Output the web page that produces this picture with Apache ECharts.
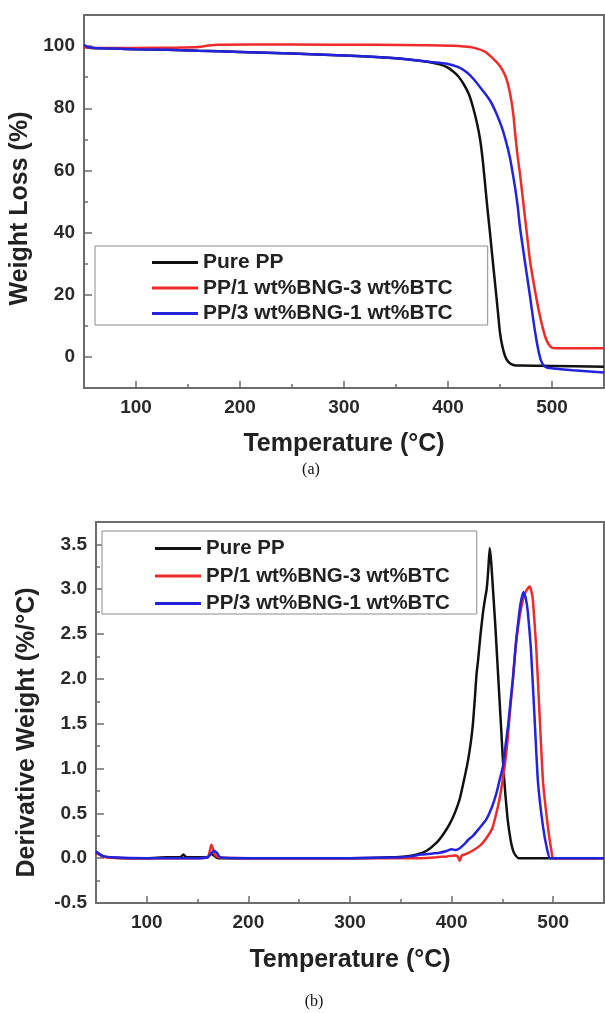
<!DOCTYPE html>
<html>
<head>
<meta charset="utf-8">
<script src="https://cdn.jsdelivr.net/npm/echarts@6/dist/echarts.min.js"></script>
<style>
  html, body { margin: 0; padding: 0; background: #ffffff; }
  #chart { width: 605px; height: 1013px; }
</style>
</head>
<body>
<div id="chart"></div>
<script>
// ---- Series names and colours ----
const seriesNames = ['Pure PP', 'PP/1 wt%BNG-3 wt%BTC', 'PP/3 wt%BNG-1 wt%BTC'];
const seriesColors = ['#111111', '#ee2a2a', '#2323dd'];

// ---- Axis ticks ----
const tempMajorTicks = [100, 200, 300, 400, 500];
const tempMinorTicks = [150, 250, 350, 450];
const weightMajorTicks = [0, 20, 40, 60, 80, 100];
const weightMinorTicks = [10, 30, 50, 70, 90];
const derivMajorTicks = [-0.5, 0, 0.5, 1, 1.5, 2, 2.5, 3, 3.5];
const derivMinorTicks = [-0.25, 0.25, 0.75, 1.25, 1.75, 2.25, 2.75, 3.25];

// ---- (a) TGA: [temperature °C, weight %] ----
const tgaPurePP = [
  [50, 99.8], [55, 99.5], [60, 99.4], [80, 99.2], [100, 99.0], [130, 98.8], [160, 98.5],
  [200, 98.1], [250, 97.6], [300, 97.0], [335, 96.4], [360, 95.8], [383, 94.8], [392, 94.1],
  [399, 93.2], [405, 91.8], [410, 90.2], [415, 87.8], [420, 84.6], [424, 80.4], [428, 75],
  [431, 69.7], [433.5, 63], [435.6, 55.8], [438, 47.5], [440.4, 39.8], [443, 31], [445.2, 23.8],
  [448, 14.5], [450, 7.8], [452, 3.8], [454.8, 0.3], [458, -1.6], [462.8, -2.6], [470, -2.8],
  [500, -2.9], [550, -3.2]
];
const tgaBng1Btc3 = [
  [50, 99.7], [60, 99.4], [100, 99.4], [140, 99.5], [160, 99.7], [170, 100.2], [180, 100.4],
  [250, 100.5], [330, 100.4], [380, 100.3], [405, 100.1], [415, 99.9], [424.3, 99.5], [435, 98.3],
  [443.6, 95.9], [449, 94], [453.2, 91.8], [456, 89.6], [458.5, 86.6], [461, 82.3], [463, 77.5],
  [464.4, 72.5], [466.8, 65], [469.2, 58.9], [471.6, 52], [474, 45], [476.4, 38], [478.8, 31.1],
  [482, 24.5], [485.3, 18.3], [488.5, 13], [491.6, 8.7], [494, 6], [496.5, 4.2], [499.7, 3.0],
  [505, 2.8], [550, 2.8]
];
const tgaBng3Btc1 = [
  [50, 100.4], [53, 99.8], [60, 99.4], [80, 99.2], [100, 99.0], [130, 98.8], [160, 98.5],
  [200, 98.1], [250, 97.6], [300, 97.0], [335, 96.4], [360, 95.8], [383, 94.9], [399, 94.3],
  [410, 93.2], [418, 91.6], [424.3, 89.5], [432, 86.3], [440.4, 82.5], [446, 78.7], [451.6, 74],
  [456, 69], [459.6, 64], [462, 59.5], [464.4, 54.7], [467, 48.5], [469.2, 41.8], [472.5, 34],
  [475.6, 26.9], [479, 19.2], [482, 11.9], [484.5, 6.5], [486.8, 2.3], [489, -0.8], [491.6, -2.6],
  [495, -3.4], [501.3, -3.7], [520, -4.3], [550, -5.0]
];

// ---- (b) DTG: [temperature °C, derivative weight %/°C] ----
const dtgPurePP = [
  [50, 0.07], [53, 0.05], [57, 0.02], [62, 0.01], [80, 0.0], [100, 0.0], [120, 0.01], [133, 0.01],
  [136, 0.04], [139, 0.01], [160, 0.01], [163, 0.05], [166, 0.03], [170, 0.0], [200, 0.0],
  [250, 0.0], [300, 0.0], [340, 0.01], [355, 0.02], [365, 0.04], [375, 0.08], [385, 0.17],
  [392, 0.27], [398, 0.38], [403, 0.5], [408, 0.66], [412, 0.86], [416, 1.08], [419, 1.3],
  [421, 1.5], [423, 1.8], [424.5, 2.05], [426, 2.2], [428.5, 2.5], [431, 2.75], [433, 2.9],
  [434.5, 3.0], [436, 3.2], [437.5, 3.46], [439, 3.3], [441, 2.95], [443, 2.6], [445, 2.2],
  [447, 1.8], [449, 1.4], [451, 1.0], [453, 0.7], [455, 0.45], [457, 0.28], [459, 0.15],
  [461, 0.07], [463, 0.03], [466, 0.0], [550, 0.0]
];
const dtgBng1Btc3 = [
  [50, 0.06], [55, 0.03], [60, 0.01], [80, 0.0], [150, 0.0], [160, 0.01], [162, 0.08],
  [163.5, 0.15], [165, 0.11], [167, 0.04], [170, 0.01], [200, 0.0], [300, 0.0], [370, 0.0],
  [385, 0.01], [395, 0.02], [403, 0.03], [406, 0.02], [408, -0.03], [410, 0.03], [415, 0.05],
  [420, 0.08], [428, 0.14], [434, 0.22], [440, 0.33], [444, 0.5], [447, 0.65], [450, 0.85],
  [452.5, 1.05], [455, 1.3], [457, 1.58], [460, 1.95], [463, 2.35], [466, 2.62], [469, 2.82],
  [472, 2.95], [474.5, 3.0], [476.7, 3.03], [478.5, 2.98], [480, 2.88], [483.3, 2.35],
  [486.6, 1.6], [490, 0.85], [494.8, 0.35], [498, 0.1], [500, 0.0], [550, 0.0]
];
const dtgBng3Btc1 = [
  [50, 0.07], [54, 0.04], [58, 0.02], [65, 0.01], [100, 0.0], [150, 0.0], [160, 0.01],
  [163, 0.05], [166, 0.08], [169, 0.06], [172, 0.01], [200, 0.0], [300, 0.0], [350, 0.01],
  [360, 0.02], [370, 0.04], [380, 0.05], [388, 0.06], [395, 0.08], [400, 0.1], [404, 0.09],
  [408, 0.11], [412, 0.15], [416, 0.2], [421, 0.25], [427, 0.33], [434, 0.43], [440, 0.58],
  [444, 0.72], [447, 0.86], [450.5, 1.02], [453, 1.25], [455.5, 1.47], [458, 1.75],
  [460.5, 2.02], [463.5, 2.43], [466, 2.68], [468, 2.85], [470.8, 2.97], [473, 2.9],
  [475, 2.75], [478, 2.35], [481.5, 1.6], [485, 0.85], [490, 0.35], [494, 0.1], [497, 0.0],
  [550, 0.0]
];

// ---- Shared styling ----
const FONT = '"Liberation Sans", Arial, sans-serif';
const FRAME = '#6c6c6c';
const TICK_TEXT = { fontFamily: FONT, fontWeight: 'bold', fontSize: 19, color: '#2a2a2a' };
const TITLE_TEXT = { fontFamily: FONT, fontWeight: 'bold', fontSize: 25, color: '#222222' };

function tempAxis(gridIndex, nameGap) {
  return {
    gridIndex, type: 'value', position: 'bottom', min: 50, max: 550, interval: 50,
    axisLine: { show: true, onZero: false, lineStyle: { color: FRAME, width: 2 } },
    axisTick: { show: true, inside: true, length: 7, customValues: tempMajorTicks,
                lineStyle: { color: FRAME, width: 1.5 } },
    axisLabel: Object.assign({ customValues: tempMajorTicks, margin: 10 }, TICK_TEXT),
    splitLine: { show: false },
    name: 'Temperature (°C)', nameLocation: 'middle', nameGap, nameTextStyle: TITLE_TEXT
  };
}
function tempMinorAxis(gridIndex) {
  return {
    gridIndex, type: 'value', position: 'bottom', min: 50, max: 550, interval: 50,
    axisLine: { show: false, onZero: false },
    axisTick: { show: true, inside: true, length: 4, customValues: tempMinorTicks,
                lineStyle: { color: FRAME, width: 1.5 } },
    axisLabel: { show: false }, splitLine: { show: false }
  };
}
function valueAxis(gridIndex, min, max, interval, majors, fmt, name, nameGap, namePad) {
  return {
    gridIndex, type: 'value', position: 'left', min, max, interval,
    axisLine: { show: true, onZero: false, lineStyle: { color: FRAME, width: 2 } },
    axisTick: { show: true, inside: true, length: 8, customValues: majors,
                lineStyle: { color: FRAME, width: 1.5 } },
    axisLabel: Object.assign({ customValues: majors, margin: 9, formatter: fmt }, TICK_TEXT),
    splitLine: { show: false },
    name, nameLocation: 'middle', nameRotate: 90, nameGap,
    nameTextStyle: Object.assign({ padding: namePad }, TITLE_TEXT)
  };
}
function valueMinorAxis(gridIndex, min, max, interval, minors) {
  return {
    gridIndex, type: 'value', position: 'left', min, max, interval,
    axisLine: { show: false, onZero: false },
    axisTick: { show: true, inside: true, length: 4, customValues: minors,
                lineStyle: { color: FRAME, width: 1.5 } },
    axisLabel: { show: false }, splitLine: { show: false }
  };
}
function legendAt(left, top, padding, itemGap, fontSize) {
  return {
    orient: 'vertical', left, top, padding, itemGap,
    itemWidth: 46, itemHeight: 3, icon: 'rect',
    borderColor: '#8c8c8c', borderWidth: 1, backgroundColor: '#ffffff',
    textStyle: { fontFamily: FONT, fontWeight: 'bold', fontSize, color: '#222222', lineHeight: fontSize },
    data: seriesNames, selectedMode: false
  };
}
function lineSeries(name, idx, axisIndex, data, smooth) {
  return {
    name, type: 'line', xAxisIndex: axisIndex, yAxisIndex: axisIndex, data,
    showSymbol: false, symbol: 'none', smooth, animation: false,
    color: seriesColors[idx],
    lineStyle: { color: seriesColors[idx], width: 2.5 },
    z: 2 + idx
  };
}

const chart = echarts.init(document.getElementById('chart'), null, { renderer: 'canvas' });
chart.setOption({
  backgroundColor: '#ffffff',
  animation: false,
  grid: [
    { left: 84, top: 15, width: 520, height: 373, show: true, borderColor: FRAME, borderWidth: 2,
      outerBoundsMode: 'none' },
    { left: 96, top: 522, width: 508, height: 381, show: true, borderColor: FRAME, borderWidth: 2,
      outerBoundsMode: 'none' }
  ],
  xAxis: [
    tempAxis(0, 44), tempAxis(1, 45),
    tempMinorAxis(0), tempMinorAxis(1)
  ],
  yAxis: [
    valueAxis(0, -10, 110, 10, weightMajorTicks, v => String(v), 'Weight Loss (%)', 44, [0, 14, 0, 0]),
    valueAxis(1, -0.5, 3.75, 0.25, derivMajorTicks, v => v.toFixed(1), 'Derivative Weight (%/°C)', 56, [0, 40, 0, 0]),
    valueMinorAxis(0, -10, 110, 10, weightMinorTicks),
    valueMinorAxis(1, -0.5, 3.75, 0.25, derivMinorTicks)
  ],
  legend: [
    legendAt(95, 246, [6, 35, 1, 57], 4.5, 21),
    legendAt(102, 531, [7, 27, 0, 53], 6.5, 20.5)
  ],
  series: [
    lineSeries(seriesNames[0], 0, 0, tgaPurePP, 0.3),
    lineSeries(seriesNames[1], 1, 0, tgaBng1Btc3, 0.3),
    lineSeries(seriesNames[2], 2, 0, tgaBng3Btc1, 0.3),
    lineSeries(seriesNames[0], 0, 1, dtgPurePP, 0.15),
    lineSeries(seriesNames[1], 1, 1, dtgBng1Btc3, 0.15),
    lineSeries(seriesNames[2], 2, 1, dtgBng3Btc1, 0.15)
  ],
  graphic: [
    { type: 'text', style: { text: '(a)', x: 311, y: 470, align: 'center', verticalAlign: 'middle',
      font: '16px "Liberation Serif", "Times New Roman", serif', fill: '#111111' } },
    { type: 'text', style: { text: '(b)', x: 314, y: 1002, align: 'center', verticalAlign: 'middle',
      font: '16px "Liberation Serif", "Times New Roman", serif', fill: '#111111' } }
  ]
});
</script>
</body>
</html>
